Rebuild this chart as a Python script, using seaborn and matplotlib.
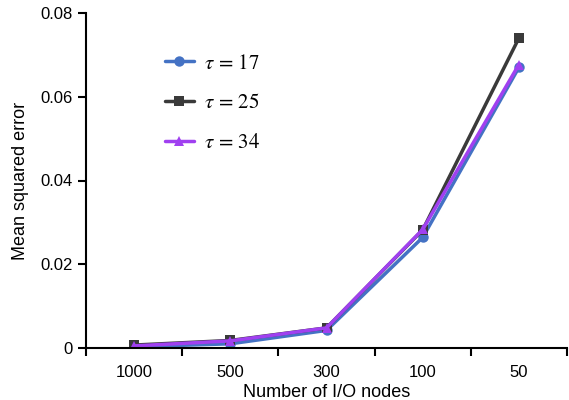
import matplotlib
matplotlib.use("Agg")
import matplotlib.pyplot as plt
import seaborn as sns
import pandas as pd
from matplotlib.ticker import FixedLocator, FuncFormatter

categories = ["1000", "500", "300", "100", "50"]
tau17 = [0.0003, 0.0010, 0.0042, 0.0264, 0.0670]
tau25 = [0.0007, 0.0018, 0.0048, 0.0282, 0.0740]
tau34 = [0.0005, 0.0017, 0.0048, 0.0283, 0.0677]
labels = [r"$\tau\,=\,17$", r"$\tau\,=\,25$", r"$\tau\,=\,34$"]

sns.set_style("white")
plt.rcParams["font.family"] = ["Liberation Sans", "DejaVu Sans"]
plt.rcParams["mathtext.fontset"] = "stix"
plt.rcParams["text.color"] = "black"
plt.rcParams["axes.labelcolor"] = "black"
plt.rcParams["xtick.color"] = "black"
plt.rcParams["ytick.color"] = "black"

rows = []
for lab, vals in zip(labels, [tau17, tau25, tau34]):
    for i, v in enumerate(vals):
        rows.append({"x": i, "y": v, "series": lab})
df = pd.DataFrame(rows)

fig = plt.figure(figsize=(5.69, 4.0), dpi=100)
ax = fig.add_axes([86/569, 1-348/400, (567-86)/569, (348-13)/400])

palette = {labels[0]: "#4472C4", labels[1]: "#3a3a3a", labels[2]: "#A040F0"}
markers = {labels[0]: "o", labels[1]: "s", labels[2]: "^"}
sns.lineplot(data=df, x="x", y="y", hue="series", style="series",
             palette=palette, markers=markers, dashes=False,
             linewidth=2.5, markersize=7.5, markeredgewidth=0, ax=ax)

ax.set_xlim(-0.5, 4.5)
ax.set_ylim(0, 0.08)
ax.set_xticks(range(len(categories)))
ax.set_xticklabels(categories, fontsize=12)
ax.xaxis.set_minor_locator(FixedLocator([-0.5 + k for k in range(6)]))
ax.tick_params(axis="x", which="major", length=0, pad=12)
ax.tick_params(axis="x", which="minor", length=6, width=1.5, direction="out", color="black", bottom=True)
ax.set_yticks([0, 0.02, 0.04, 0.06, 0.08])
ax.yaxis.set_major_formatter(FuncFormatter(lambda v, p: "0" if v == 0 else f"{v:.2f}"))
ax.tick_params(axis="y", which="major", length=6, width=1.5, direction="out", color="black", left=True, labelsize=12)

for s in ["top", "right"]:
    ax.spines[s].set_visible(False)
for s in ["left", "bottom"]:
    ax.spines[s].set_color("black")
    ax.spines[s].set_linewidth(1.5)

ax.set_xlabel("Number of I/O nodes", fontsize=13, labelpad=3)
ax.set_ylabel("Mean squared error", fontsize=13, labelpad=8)

leg = ax.legend(loc="upper left", bbox_to_anchor=(0.125, 0.935), frameon=False,
                fontsize=15, labelspacing=1.0, handlelength=1.4, handletextpad=0.5, title=None)

fig.savefig("out.png", dpi=100)
